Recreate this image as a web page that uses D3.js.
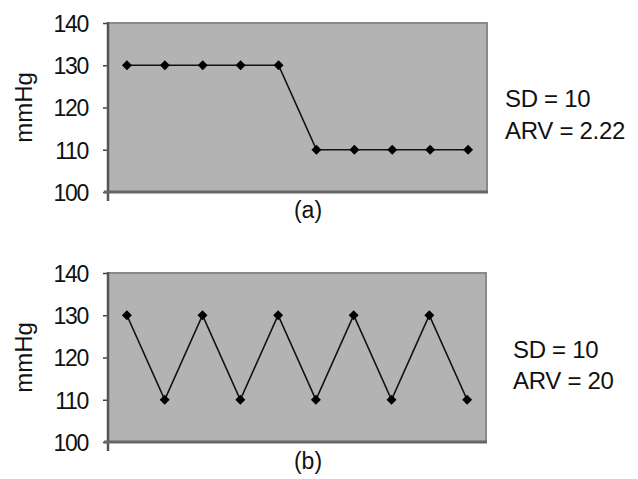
<!DOCTYPE html>
<html><head><meta charset="utf-8">
<script src="https://cdn.jsdelivr.net/npm/d3@7/dist/d3.min.js"></script>
<style>body{margin:0;background:#fff;} svg{display:block;}</style>
</head><body>
<script>
const categories = [1,2,3,4,5,6,7,8,9,10];
const seriesA = [130,130,130,130,130,110,110,110,110,110];
const seriesB = [130,110,130,110,130,110,130,110,130,110];
const yTicks = [100,110,120,130,140];
const panelLabels = ["(a)","(b)"];
const statsA = ["SD = 10","ARV = 2.22"];
const statsB = ["SD = 10","ARV = 20"];

const W = 638, H = 479;
const svg = d3.select("body").append("svg").attr("width",W).attr("height",H);
const font = "Liberation Sans, Arial, sans-serif";

function panel(data, top, bottom, right, label, labelY, stats, statsX, statsY) {
  const left = 108;
  const x = d3.scaleBand().domain(categories).range([left, right]);
  const y = d3.scaleLinear().domain([100,140]).range([bottom, top]);
  const g = svg.append("g");
  g.append("rect").attr("x",left).attr("y",top).attr("width",right-left).attr("height",bottom-top)
    .attr("fill","#b3b3b3");
  g.append("path").attr("d",`M${left},${top}H${right}V${bottom}`).attr("fill","none")
    .attr("stroke","#8a8a8a").attr("stroke-width",2);
  const ya = d3.axisLeft(y).tickValues(yTicks).tickSize(5).tickPadding(15);
  const yg = g.append("g").attr("transform",`translate(${left},0)`).call(ya);
  yg.select(".domain").remove();
  yg.selectAll(".tick line").attr("stroke","#444").attr("stroke-width",1.5);
  yg.selectAll(".tick text").attr("font-family",font).attr("font-size",23).attr("fill","#111")
    .attr("letter-spacing","-1.3px").attr("dy","0.36em");
  g.append("line").attr("x1",left).attr("x2",left).attr("y1",top-1).attr("y2",bottom+9)
    .attr("stroke","#555").attr("stroke-width",2.5);
  g.append("line").attr("x1",left-4).attr("x2",right+1).attr("y1",bottom).attr("y2",bottom)
    .attr("stroke","#666").attr("stroke-width",3);
  const cx = i => x(categories[i]) + x.bandwidth()/2;
  const line = d3.line().x((d,i)=>cx(i)).y(d=>y(d));
  g.append("path").datum(data).attr("d",line).attr("fill","none").attr("stroke","#111").attr("stroke-width",1.6);
  const sym = d3.symbol().type(d3.symbolSquare).size(50);
  g.selectAll(".pt").data(data).join("path")
    .attr("transform",(d,i)=>`translate(${cx(i)},${y(d)}) rotate(45)`)
    .attr("d",sym).attr("fill","#000");
  g.append("text").attr("transform",`translate(32,${(top+bottom)/2}) rotate(-90)`)
    .attr("text-anchor","middle").attr("font-family",font).attr("font-size",24).attr("fill","#111").text("mmHg");
  g.append("text").attr("x",308).attr("y",labelY).attr("text-anchor","middle")
    .attr("font-family",font).attr("font-size",23).attr("fill","#111").text(label);
  stats.forEach((s,i)=>{
    g.append("text").attr("x",statsX).attr("y",statsY[i]).attr("font-family",font).attr("font-size",24)
      .attr("fill","#111").attr("letter-spacing","-0.3px").text(s);
  });
}
panel(seriesA, 23, 192, 487, panelLabels[0], 218, statsA, 505, [107,139]);
panel(seriesB, 273, 442, 486, panelLabels[1], 469, statsB, 513, [358,389]);
</script>
</body></html>
